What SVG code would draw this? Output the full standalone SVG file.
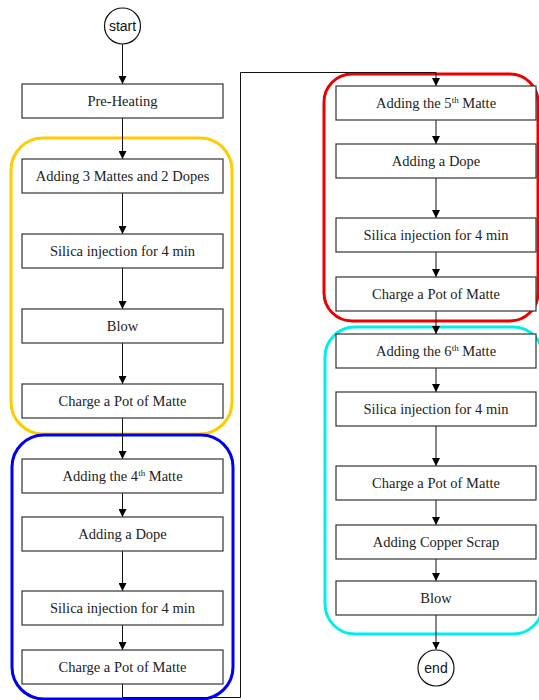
<svg xmlns="http://www.w3.org/2000/svg" width="539" height="700" viewBox="0 0 539 700">
<defs>
<style>
.box{fill:#fff;stroke:#333;stroke-width:1.2}
.lbl{font-family:'Liberation Serif','DejaVu Serif',serif;font-size:14.5px;fill:#222;text-anchor:middle}
.sup{font-size:9px}
.term{fill:#fff;stroke:#111;stroke-width:1.2}
.tl{font-family:'Liberation Sans',Arial,sans-serif;font-size:14px;fill:#111;text-anchor:middle}
.grp{fill:none;stroke-width:3}
.con{fill:none;stroke:#111;stroke-width:1}
</style>
<marker id="ah" viewBox="0 0 8 8" refX="8" refY="4" markerWidth="8" markerHeight="8" markerUnits="userSpaceOnUse" orient="auto">
<path d="M0,0 L8,4 L0,8 Z" fill="#000"/>
</marker>
</defs>
<rect width="539" height="700" fill="#fff"/>

<g id="groups">
<rect class="grp" x="11" y="138" width="221" height="296" rx="32" stroke="#FFCC00"/>
<rect class="grp" x="12" y="435" width="221" height="264" rx="32" stroke="#0000EE"/>
<rect class="grp" x="324" y="74" width="214" height="247" rx="28" stroke="#EE0000"/>
<rect class="grp" x="325" y="327" width="218" height="307" rx="30" stroke="#00EEEE"/>
</g>

<g id="connectors">
<line class="con" x1="122.5" y1="44" x2="122.5" y2="84" marker-end="url(#ah)"/>
<line class="con" x1="122.5" y1="118" x2="122.5" y2="159" marker-end="url(#ah)"/>
<line class="con" x1="122.5" y1="193" x2="122.5" y2="234" marker-end="url(#ah)"/>
<line class="con" x1="122.5" y1="268" x2="122.5" y2="309" marker-end="url(#ah)"/>
<line class="con" x1="122.5" y1="343" x2="122.5" y2="384" marker-end="url(#ah)"/>
<line class="con" x1="122.5" y1="418" x2="122.5" y2="459" marker-end="url(#ah)"/>
<line class="con" x1="122.5" y1="493" x2="122.5" y2="517" marker-end="url(#ah)"/>
<line class="con" x1="122.5" y1="551" x2="122.5" y2="591" marker-end="url(#ah)"/>
<line class="con" x1="122.5" y1="625" x2="122.5" y2="650" marker-end="url(#ah)"/>
<polyline class="con" points="122.5,684 122.5,697.5 240.5,697.5 240.5,72.5 436,72.5 436,86" marker-end="url(#ah)"/>
<line class="con" x1="436" y1="120" x2="436" y2="144" marker-end="url(#ah)"/>
<line class="con" x1="436" y1="178" x2="436" y2="218" marker-end="url(#ah)"/>
<line class="con" x1="436" y1="252" x2="436" y2="277" marker-end="url(#ah)"/>
<line class="con" x1="436" y1="311" x2="436" y2="334" marker-end="url(#ah)"/>
<line class="con" x1="436" y1="368" x2="436" y2="392" marker-end="url(#ah)"/>
<line class="con" x1="436" y1="426" x2="436" y2="466" marker-end="url(#ah)"/>
<line class="con" x1="436" y1="500" x2="436" y2="525" marker-end="url(#ah)"/>
<line class="con" x1="436" y1="559" x2="436" y2="581" marker-end="url(#ah)"/>
<line class="con" x1="436" y1="615" x2="436" y2="649.5" marker-end="url(#ah)"/>
</g>

<g id="start"><circle class="term" cx="122.5" cy="26" r="18"/><text class="tl" x="122.5" y="31">start</text></g>
<g id="preheating"><rect class="box" x="22" y="84" width="201" height="34"/><text class="lbl" x="122.5" y="106">Pre-Heating</text></g>
<g id="add3"><rect class="box" x="22" y="159" width="201" height="34"/><text class="lbl" x="122.5" y="181">Adding 3 Mattes and 2 Dopes</text></g>
<g id="silica1"><rect class="box" x="22" y="234" width="201" height="34"/><text class="lbl" x="122.5" y="256">Silica injection for 4 min</text></g>
<g id="blow1"><rect class="box" x="22" y="309" width="201" height="34"/><text class="lbl" x="122.5" y="331">Blow</text></g>
<g id="charge1"><rect class="box" x="22" y="384" width="201" height="34"/><text class="lbl" x="122.5" y="406">Charge a Pot of Matte</text></g>
<g id="add4"><rect class="box" x="22" y="459" width="201" height="34"/><text class="lbl" x="122.5" y="481">Adding the 4<tspan class="sup" dy="-5">th</tspan><tspan dy="5"> Matte</tspan></text></g>
<g id="dope1"><rect class="box" x="22" y="517" width="201" height="34"/><text class="lbl" x="122.5" y="539">Adding a Dope</text></g>
<g id="silica2"><rect class="box" x="22" y="591" width="201" height="34"/><text class="lbl" x="122.5" y="613">Silica injection for 4 min</text></g>
<g id="charge2"><rect class="box" x="22" y="650" width="201" height="34"/><text class="lbl" x="122.5" y="672">Charge a Pot of Matte</text></g>

<g id="add5"><rect class="box" x="336" y="86" width="200" height="34"/><text class="lbl" x="436" y="108">Adding the 5<tspan class="sup" dy="-5">th</tspan><tspan dy="5"> Matte</tspan></text></g>
<g id="dope2"><rect class="box" x="336" y="144" width="200" height="34"/><text class="lbl" x="436" y="166">Adding a Dope</text></g>
<g id="silica3"><rect class="box" x="336" y="218" width="200" height="34"/><text class="lbl" x="436" y="240">Silica injection for 4 min</text></g>
<g id="charge3"><rect class="box" x="336" y="277" width="200" height="34"/><text class="lbl" x="436" y="299">Charge a Pot of Matte</text></g>
<g id="add6"><rect class="box" x="336" y="334" width="200" height="34"/><text class="lbl" x="436" y="356">Adding the 6<tspan class="sup" dy="-5">th</tspan><tspan dy="5"> Matte</tspan></text></g>
<g id="silica4"><rect class="box" x="336" y="392" width="200" height="34"/><text class="lbl" x="436" y="414">Silica injection for 4 min</text></g>
<g id="charge4"><rect class="box" x="336" y="466" width="200" height="34"/><text class="lbl" x="436" y="488">Charge a Pot of Matte</text></g>
<g id="copper"><rect class="box" x="336" y="525" width="200" height="34"/><text class="lbl" x="436" y="547">Adding Copper Scrap</text></g>
<g id="blow2"><rect class="box" x="336" y="581" width="200" height="34"/><text class="lbl" x="436" y="603">Blow</text></g>
<g id="end"><circle class="term" cx="436" cy="668" r="18"/><text class="tl" x="436" y="673">end</text></g>
</svg>
